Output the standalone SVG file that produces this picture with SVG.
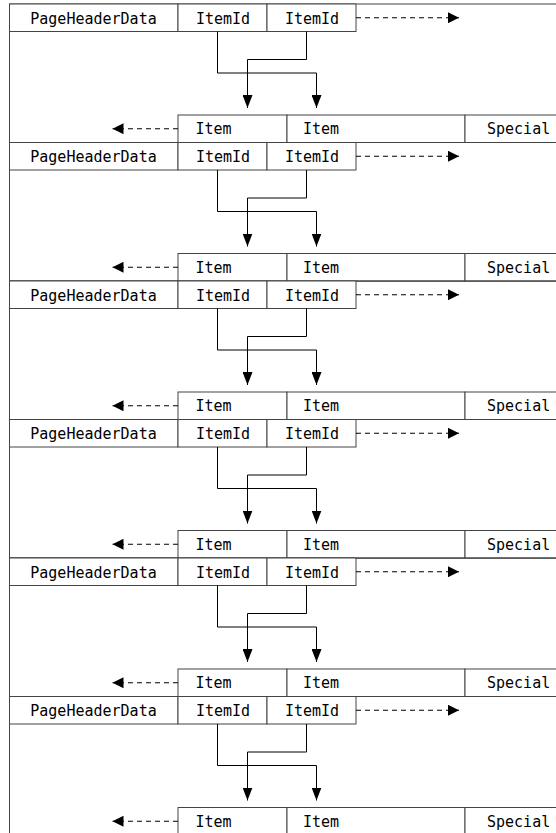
<svg xmlns="http://www.w3.org/2000/svg" width="556" height="833" viewBox="0 0 556 833">
<style>
.box{fill:#fff;stroke:#444;stroke-width:1}
.page{fill:none;stroke:#444;stroke-width:1}
text{font-family:"DejaVu Sans Mono","Liberation Mono",monospace;font-size:15px;fill:#000}
.c{text-anchor:middle}
.conn{fill:none;stroke:#000;stroke-width:1}
.dash{fill:none;stroke:#000;stroke-width:1;stroke-dasharray:5,4}
</style>
<defs>
<marker id="ah" markerUnits="userSpaceOnUse" markerWidth="13" markerHeight="10" refX="13" refY="5" orient="auto">
<path d="M0,0 L13,5 L0,10 z" fill="#000"/>
</marker>
<marker id="ahh" markerUnits="userSpaceOnUse" markerWidth="11" markerHeight="11" refX="11" refY="5.5" orient="auto">
<path d="M0,0 L11,5.5 L0,11 z" fill="#000"/>
</marker>
<g id="pg">
<rect class="page" x="9.5" y="0" width="620" height="138.5"/>
<rect class="box" x="9.5" y="0" width="168.5" height="27.5"/>
<rect class="box" x="178" y="0" width="89" height="27.5"/>
<rect class="box" x="267" y="0" width="89" height="27.5"/>
<rect class="box" x="178" y="111" width="109" height="27.5"/>
<rect class="box" x="287" y="111" width="178" height="27.5"/>
<rect class="box" x="465" y="111" width="160" height="27.5"/>
<text class="c" x="93.5" y="19.5">PageHeaderData</text>
<text class="c" x="223" y="19.5">ItemId</text>
<text class="c" x="312" y="19.5">ItemId</text>
<text x="195.5" y="130">Item</text>
<text x="303" y="130">Item</text>
<text x="487" y="130">Special</text>
</g>
<g id="cn">
<path class="conn" d="M217.5,27.5 V69 H316.5 V104" marker-end="url(#ah)"/>
<path class="conn" d="M306.5,27.5 V55.5 H247.5 V104" marker-end="url(#ah)"/>
<path class="dash" d="M356,13.75 H459" marker-end="url(#ahh)"/>
<path class="dash" d="M178,124.75 H112.5" marker-end="url(#ahh)"/>
</g>
</defs>
<g id="page1" transform="translate(0,4)"><use href="#pg"/></g>
<g id="page2" transform="translate(0,142.5)"><use href="#pg"/></g>
<g id="page3" transform="translate(0,281)"><use href="#pg"/></g>
<g id="page4" transform="translate(0,419.5)"><use href="#pg"/></g>
<g id="page5" transform="translate(0,558)"><use href="#pg"/></g>
<g id="page6" transform="translate(0,696.5)"><use href="#pg"/></g>
<g id="connectors">
<use href="#cn" transform="translate(0,4)"/>
<use href="#cn" transform="translate(0,142.5)"/>
<use href="#cn" transform="translate(0,281)"/>
<use href="#cn" transform="translate(0,419.5)"/>
<use href="#cn" transform="translate(0,558)"/>
<use href="#cn" transform="translate(0,696.5)"/>
</g>
</svg>
